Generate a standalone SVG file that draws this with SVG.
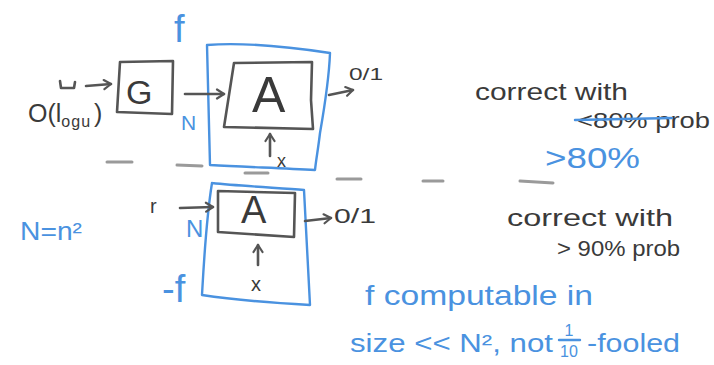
<svg xmlns="http://www.w3.org/2000/svg" width="714" height="365" viewBox="0 0 714 365">
  <style>
    .ink { fill: none; stroke: #555; stroke-width: 2.6; stroke-linecap: round; stroke-linejoin: round; }
    .blue { fill: none; stroke: #4a92e0; stroke-width: 2.4; stroke-linecap: round; stroke-linejoin: round; }
    .dash { fill: none; stroke: #9a9a9a; stroke-width: 3; stroke-linecap: round; }
    .t { font-family: "Liberation Sans", "DejaVu Sans", sans-serif; fill: #3a3a3a; }
    .tb { font-family: "Liberation Sans", "DejaVu Sans", sans-serif; fill: #4a92e0; }
  </style>
  <defs>
    <marker id="head" viewBox="0 0 12 12" refX="10" refY="6" markerWidth="12" markerHeight="12" markerUnits="userSpaceOnUse" orient="auto">
      <path d="M3,1.5 L10,6 L3,10.5" fill="none" stroke="#555" stroke-width="2.2" stroke-linecap="round" stroke-linejoin="round"/>
    </marker>
  </defs>
  <rect width="714" height="365" fill="#ffffff"/>

  <!-- upper construction: G feeds A inside f -->
  <g id="node-g">
    <path class="ink" d="M120,62 L173,61 L172,114 L117,112 L120,62"/>
    <text class="t" x="126" y="104" font-size="34">G</text>
  </g>
  <g id="node-f-top">
    <path class="blue" d="M207,45 C245,42 290,47 330,53 C329,80 324,110 320,133 C318,150 316,160 315,170 C280,168 245,167 210,165 C209,125 208,85 207,45"/>
    <text class="tb" x="174" y="42" font-size="38">f</text>
    <text class="tb" x="181" y="130" font-size="21">N</text>
  </g>
  <g id="node-a-top">
    <path class="ink" d="M234,63 L312,62 L311,100 L313,129 L224,127 L234,63"/>
    <text class="t" x="252" y="112" font-size="50">A</text>
    <text class="t" x="277" y="167" font-size="18">x</text>
  </g>

  <!-- lower construction: A alone inside f -->
  <g id="node-f-bottom">
    <path class="blue" d="M212,183 C240,186 280,188 304,190 C306,230 308,270 310,305 C275,303 235,300 202,295 C204,260 206,220 212,183"/>
    <text class="tb" x="162" y="302" font-size="38">-f</text>
    <text class="tb" x="186" y="237" font-size="24">N</text>
  </g>
  <g id="node-a-bottom">
    <path class="ink" d="M218,191 L295,193 L294,237 L218,232 Z"/>
    <text class="t" x="241" y="223" font-size="38">A</text>
    <text class="t" x="251" y="291" font-size="20">x</text>
  </g>

  <g id="connectors">
    <!-- top row -->
    <path class="ink" d="M60,81 L61,88 L74,88 L75,82"/>
    <path class="ink" d="M86,86 L111,84" marker-end="url(#head)"/>
    <path class="ink" d="M185,94 L224,94" marker-end="url(#head)"/>
    <path class="ink" d="M329,95 L353,90" marker-end="url(#head)"/>
    <path class="ink" d="M270,156 L270,134" marker-end="url(#head)"/>
    <!-- bottom row -->
    <path class="ink" d="M180,208 L213,207" marker-end="url(#head)"/>
    <path class="ink" d="M305,221 L331,218" marker-end="url(#head)"/>
    <path class="ink" d="M258,265 L258,245" marker-end="url(#head)"/>
  </g>

  <!-- separator between the two settings -->
  <g id="separator">
    <path class="dash" d="M107,162 L132,162"/>
    <path class="dash" d="M177,165 L202,166"/>
    <path class="dash" d="M245,173 L268,173"/>
    <path class="dash" d="M337,179 L361,179"/>
    <path class="dash" d="M423,181 L443,181"/>
    <path class="dash" d="M520,181 L553,183"/>
  </g>

  <!-- labels -->
  <g id="labels">
    <text class="t" x="28" y="122" font-size="25">O(l<tspan font-size="16" dy="5" letter-spacing="1">ogu</tspan><tspan dy="-5" dx="3">)</tspan></text>
    <text class="t" x="349" y="80" font-size="16" textLength="34" lengthAdjust="spacingAndGlyphs">0/1</text>
    <text class="t" x="150" y="213" font-size="20">r</text>
    <text class="t" x="334" y="223" font-size="20" textLength="42" lengthAdjust="spacingAndGlyphs">0/1</text>

    <text class="t" x="475" y="100" font-size="24" textLength="153" lengthAdjust="spacingAndGlyphs">correct with</text>
    <text class="t" x="577" y="128" font-size="22" textLength="133" lengthAdjust="spacingAndGlyphs">&lt;80% prob</text>
    <path class="blue" d="M575,120 L672,118" stroke-width="3"/>
    <text class="tb" x="545" y="168" font-size="30" textLength="95" lengthAdjust="spacingAndGlyphs">&gt;80%</text>

    <text class="tb" x="20" y="240" font-size="26" textLength="62" lengthAdjust="spacingAndGlyphs">N=n²</text>

    <text class="t" x="507" y="226" font-size="24" textLength="166" lengthAdjust="spacingAndGlyphs">correct with</text>
    <text class="t" x="557" y="256" font-size="22" textLength="123" lengthAdjust="spacingAndGlyphs">&gt; 90% prob</text>

    <text class="tb" x="365" y="305" font-size="28" textLength="228" lengthAdjust="spacingAndGlyphs">f computable in</text>
    <text class="tb" x="350" y="352" font-size="26" textLength="203" lengthAdjust="spacingAndGlyphs">size &lt;&lt; N², not</text>
    <text class="tb" x="569" y="336" font-size="16" text-anchor="middle">1</text>
    <path class="blue" d="M559,340 L580,340" stroke-width="2"/>
    <text class="tb" x="569" y="357" font-size="16" text-anchor="middle">10</text>
    <text class="tb" x="587" y="352" font-size="26" textLength="93" lengthAdjust="spacingAndGlyphs">-fooled</text>
  </g>
</svg>
